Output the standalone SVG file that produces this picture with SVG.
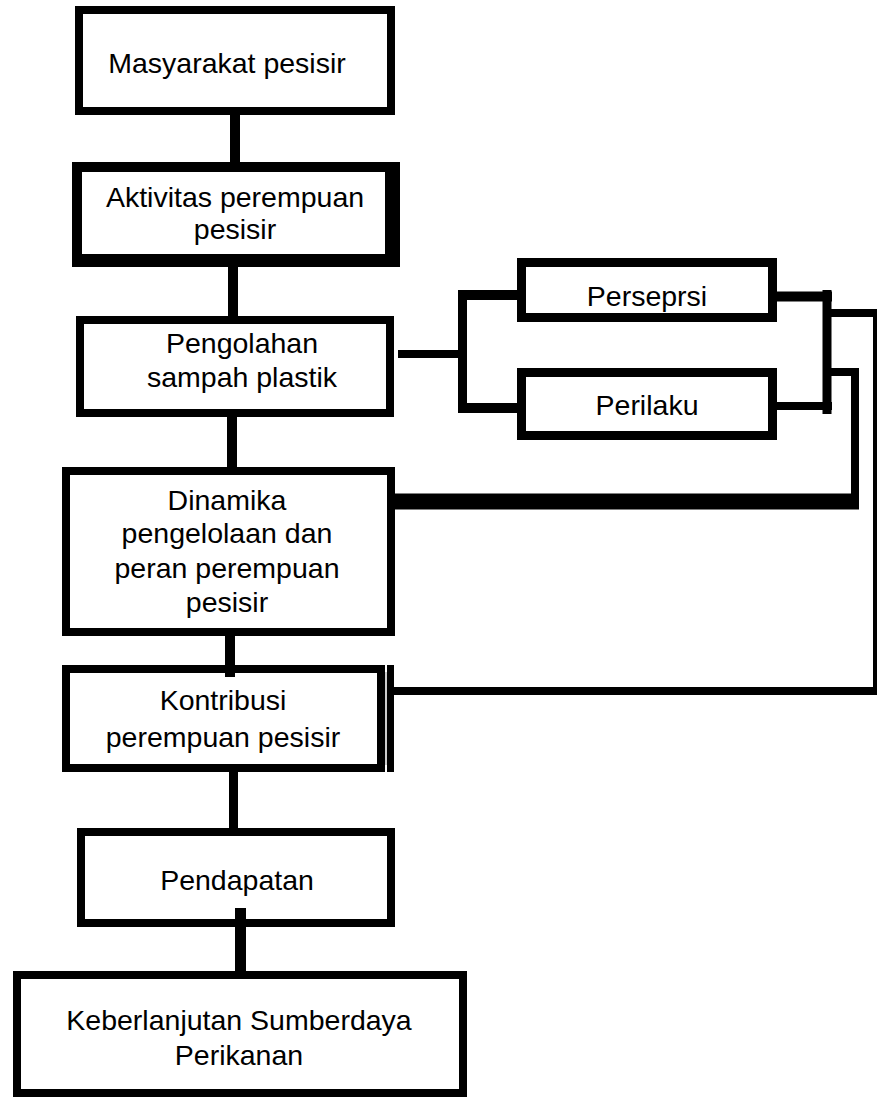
<svg xmlns="http://www.w3.org/2000/svg" width="878" height="1097" viewBox="0 0 878 1097">
<style>
.box{fill:#fff;stroke:#000;}
.t{font-family:"Liberation Sans",Arial,sans-serif;font-size:28.5px;fill:#000;text-anchor:middle;}
.c{stroke:#000;fill:none;stroke-linecap:butt;}
</style>
<rect width="878" height="1097" fill="#fff"/>
<g id="n1">
<rect class="box" x="79" y="10" width="312" height="101" stroke-width="8"/>
<text class="t" x="227" y="73">Masyarakat pesisir</text>
</g>
<g id="n2">
<rect x="72" y="162" width="328" height="105" fill="#fff"/>
<path d="M72,162H400V267H72Z M82,172V254H385V172Z" fill="#000" fill-rule="evenodd"/>
<text class="t" x="235" y="207">Aktivitas perempuan</text>
<text class="t" x="235" y="239">pesisir</text>
</g>
<g id="n3">
<rect class="box" x="80" y="320" width="310" height="93" stroke-width="8"/>
<text class="t" x="242" y="353">Pengolahan</text>
<text class="t" x="242" y="387">sampah plastik</text>
</g>
<g id="n4">
<rect class="box" x="521.5" y="262.5" width="251" height="55" stroke-width="9"/>
<text class="t" x="647" y="306">Perseprsi</text>
</g>
<g id="n5">
<rect class="box" x="521.5" y="372.5" width="251" height="63" stroke-width="9"/>
<text class="t" x="647" y="415">Perilaku</text>
</g>
<g id="n6">
<rect class="box" x="66" y="471" width="325" height="161" stroke-width="8"/>
<text class="t" x="227" y="510">Dinamika</text>
<text class="t" x="227" y="543">pengelolaan dan</text>
<text class="t" x="227" y="578">peran perempuan</text>
<text class="t" x="227" y="612">pesisir</text>
</g>
<g id="n7">
<rect class="box" x="66" y="669" width="315" height="99" stroke-width="8"/>
<line x1="390.5" y1="665" x2="390.5" y2="772" stroke="#000" stroke-width="7"/>
<line x1="386" y1="672" x2="386" y2="765" stroke="#999" stroke-width="1"/>
<text class="t" x="223" y="710">Kontribusi</text>
<text class="t" x="223" y="747">perempuan pesisir</text>
</g>
<g id="n8">
<rect class="box" x="81" y="832" width="310" height="91" stroke-width="8"/>
<text class="t" x="237" y="890">Pendapatan</text>
</g>
<g id="n9">
<rect class="box" x="17" y="975" width="446" height="118" stroke-width="8"/>
<text class="t" x="239" y="1030">Keberlanjutan Sumberdaya</text>
<text class="t" x="239" y="1065">Perikanan</text>
</g>
<g id="connectors">
<line class="c" x1="235" y1="115" x2="235" y2="162" stroke-width="10"/>
<line class="c" x1="233" y1="267" x2="233" y2="316" stroke-width="10"/>
<line class="c" x1="232" y1="417" x2="232" y2="467" stroke-width="10"/>
<line class="c" x1="230" y1="636" x2="230" y2="677" stroke-width="10"/>
<line class="c" x1="233.5" y1="772" x2="233.5" y2="830" stroke-width="9"/>
<line class="c" x1="240.5" y1="908" x2="240.5" y2="972" stroke-width="11"/>
<line class="c" x1="398" y1="354" x2="462" y2="354" stroke-width="8"/>
<line class="c" x1="462.5" y1="290" x2="462.5" y2="413" stroke-width="9"/>
<line class="c" x1="462" y1="295" x2="517" y2="295" stroke-width="10"/>
<line class="c" x1="462" y1="408" x2="517" y2="408" stroke-width="10"/>
<line class="c" x1="777" y1="296.5" x2="832" y2="296.5" stroke-width="10"/>
<line class="c" x1="777" y1="406" x2="832" y2="406" stroke-width="8"/>
<line class="c" x1="827" y1="290" x2="827" y2="414" stroke-width="9"/>
<line class="c" x1="831" y1="313" x2="877" y2="313" stroke-width="8"/>
<line class="c" x1="875" y1="309" x2="875" y2="695" stroke-width="4"/>
<line class="c" x1="394" y1="691" x2="877" y2="691" stroke-width="8"/>
<line class="c" x1="831" y1="372" x2="859" y2="372" stroke-width="8"/>
<line class="c" x1="855" y1="368" x2="855" y2="509" stroke-width="8"/>
<line class="c" x1="395" y1="501.5" x2="859" y2="501.5" stroke-width="16"/>
</g>
</svg>
